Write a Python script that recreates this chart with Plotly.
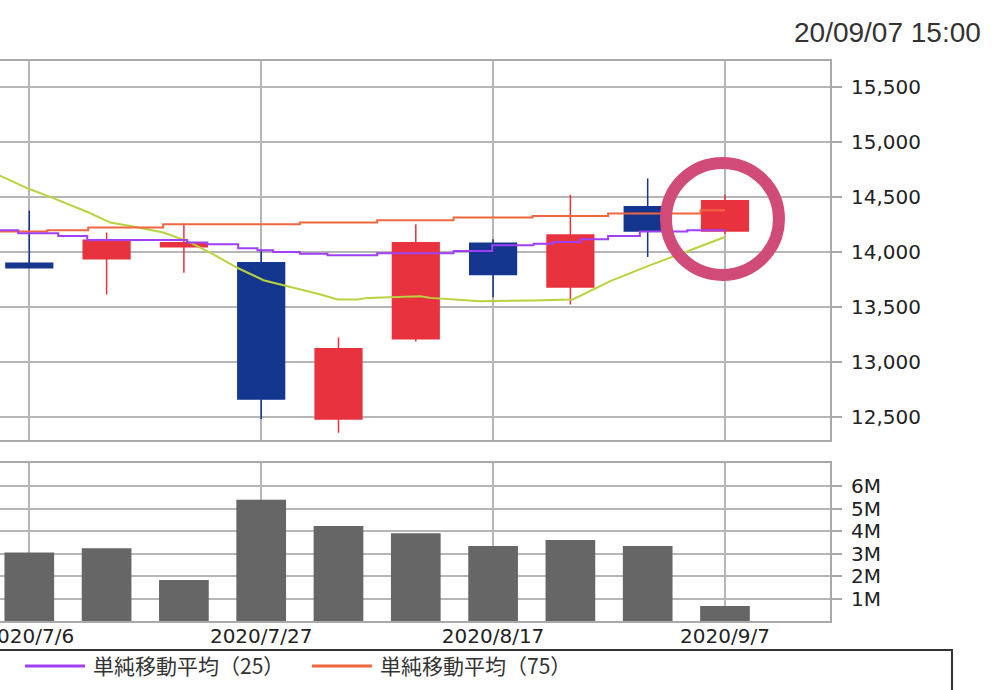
import plotly.graph_objects as go

# ---------------- data ----------------
dates = ["2020-07-06", "2020-07-13", "2020-07-20", "2020-07-27", "2020-08-03",
         "2020-08-10", "2020-08-17", "2020-08-24", "2020-08-31", "2020-09-07"]
opens = [13895, 13936, 14046, 13900, 12477, 13208, 14077, 13680, 14409, 14189]
highs = [14375, 14174, 14256, 14022, 13220, 14250, 14113, 14518, 14667, 14518]
lows = [13855, 13611, 13808, 12477, 12352, 13184, 13586, 13519, 13952, 14160]
closes = [13855, 14104, 14082, 12660, 13117, 14082, 13793, 14153, 14189, 14463]
volumes = [3.05e6, 3.23e6, 1.82e6, 5.39e6, 4.23e6, 3.90e6, 3.33e6, 3.60e6, 3.33e6, 0.67e6]

ma25_dates = ["2020-07-03 08:00", "2020-07-05", "2020-07-08 15:00", "2020-07-11 06:00",
              "2020-07-20 07:00", "2020-07-22 03:00", "2020-07-24 22:00", "2020-07-26 16:00",
              "2020-07-28 02:00", "2020-07-30 12:00", "2020-08-02", "2020-08-06 12:00",
              "2020-08-13 10:00", "2020-08-16 22:00", "2020-08-20 16:00", "2020-08-22 10:00",
              "2020-08-24 22:00", "2020-08-27 10:00", "2020-08-30 07:00", "2020-09-03 14:00",
              "2020-09-07"]
ma25_vals = [14196, 14168, 14143, 14107, 14083, 14067, 14031, 14013, 13997, 13982, 13967,
             13985, 14006, 14058, 14073, 14089, 14113, 14143, 14183, 14195, 14200]

ma75_dates = ["2020-07-03 08:00", "2020-07-07 15:00", "2020-07-11 08:00", "2020-07-18 03:00",
              "2020-07-30 12:00", "2020-08-06 12:00", "2020-08-13 10:00", "2020-08-20 14:00",
              "2020-08-27 10:00", "2020-09-04 19:00", "2020-09-07"]
ma75_vals = [14183, 14195, 14220, 14250, 14265, 14287, 14311, 14326, 14347, 14378, 14378]

ma13_dates = ["2020-07-03 08:00", "2020-07-06", "2020-07-08", "2020-07-11 09:00",
              "2020-07-13 08:00", "2020-07-15 10:00", "2020-07-18 03:00", "2020-07-20 07:00",
              "2020-07-22 16:00", "2020-07-24 20:00", "2020-07-27 05:00", "2020-07-29",
              "2020-08-01 09:00", "2020-08-02 22:00", "2020-08-04 17:00", "2020-08-05 15:00",
              "2020-08-10 10:00", "2020-08-11 08:00", "2020-08-13 10:00", "2020-08-15 20:00",
              "2020-08-20 16:00", "2020-08-24 05:00", "2020-08-27 15:00", "2020-08-31",
              "2020-09-03 06:00", "2020-09-07"]
ma13_vals = [14692, 14570, 14494, 14357, 14265, 14229, 14174, 14098, 13976, 13854, 13741,
             13696, 13611, 13565, 13565, 13580, 13595, 13580, 13565, 13550, 13556, 13565,
             13732, 13869, 13991, 14134]

price_ticks = [12500, 13000, 13500, 14000, 14500, 15000, 15500]
vol_ticks = [1e6, 2e6, 3e6, 4e6, 5e6, 6e6]
vol_tick_labels = ["1M", "2M", "3M", "4M", "5M", "6M"]
legend_labels = ["単純移動平均（25）", "単純移動平均（75）"]
timestamp = "20/09/07 15:00"

# ---------------- style ----------------
UP = "#e8333f"
DOWN = "#15368f"
C25 = "#a040f5"
C75 = "#ef6741"
C13 = "#b8d33e"
GRID = "#b6b6b6"
FRAME = "#a9a9a9"
TICKFONT = dict(family="DejaVu Sans, Noto Sans CJK JP", size=20, color="#222222")

W, H = 998, 690
ML, MR, MT, MB = 0, 168, 61, 69
PW, PH = W - ML - MR, H - MT - MB


def py(px):  # pixel y -> paper y
    return (H - MB - px) / PH


def pxx(px):  # pixel x -> paper x
    return (px - ML) / PW


xrange_ = ["2020-07-03 08:20", "2020-09-16 12:15"]
week3 = 21 * 86400000

fig = go.Figure()

fig.add_trace(go.Candlestick(
    x=dates, open=opens, high=highs, low=lows, close=closes,
    increasing=dict(line=dict(color=UP, width=1.5), fillcolor=UP),
    decreasing=dict(line=dict(color=DOWN, width=1.5), fillcolor=DOWN),
    whiskerwidth=0, xaxis="x", yaxis="y", showlegend=False,
))
fig.add_trace(go.Scatter(x=ma13_dates, y=ma13_vals, mode="lines",
                         line=dict(color=C13, width=2), xaxis="x", yaxis="y", showlegend=False))
fig.add_trace(go.Scatter(x=ma75_dates, y=ma75_vals, mode="lines",
                         line=dict(color=C75, width=2, shape="hv"), xaxis="x", yaxis="y",
                         name=legend_labels[1], showlegend=False))
fig.add_trace(go.Scatter(x=ma25_dates, y=ma25_vals, mode="lines",
                         line=dict(color=C25, width=2, shape="hv"), xaxis="x", yaxis="y",
                         name=legend_labels[0], showlegend=False))

fig.add_trace(go.Bar(x=dates, y=volumes, width=[4.5 * 86400000] * len(dates),
                     marker=dict(color="#666666", line=dict(width=0)),
                     xaxis="x2", yaxis="y2", showlegend=False))

common_x = dict(type="date", range=xrange_, tick0="2020-07-06", dtick=week3,
                showgrid=True, gridcolor=GRID, gridwidth=2,
                showline=True, mirror=True, linecolor=FRAME, linewidth=2,
                ticks="", zeroline=False, automargin=False, fixedrange=True)

fig.update_layout(
    template="none",
    width=W, height=H,
    margin=dict(l=ML, r=MR, t=MT, b=MB, pad=0),
    paper_bgcolor="white", plot_bgcolor="white",
    showlegend=False,
    boxgap=0.137,
    xaxis=dict(**common_x, anchor="y", showticklabels=False,
               rangeslider=dict(visible=False)),
    xaxis2=dict(**common_x, anchor="y2", matches="x", showticklabels=True,
                tickformat="%Y/%-m/%-d", tickfont=TICKFONT, ticklabeloverflow="allow",
                ticklabelstandoff=-4),
    yaxis=dict(domain=[py(440), 1], side="right", range=[12287, 15735],
               tickvals=price_ticks, tickformat=",d", tickfont=TICKFONT,
               ticks="outside", ticklen=10, tickwidth=2, tickcolor=FRAME,
               ticklabelstandoff=5,
               showgrid=True, gridcolor=GRID, gridwidth=2,
               showline=True, linecolor=FRAME, linewidth=2, zeroline=False,
               automargin=False, fixedrange=True, anchor="x"),
    yaxis2=dict(domain=[0, py(462.7)], side="right", range=[0, 7.04e6],
                tickvals=vol_ticks, ticktext=vol_tick_labels, tickfont=TICKFONT,
                ticks="outside", ticklen=10, tickwidth=2, tickcolor=FRAME,
                ticklabelstandoff=5,
                showgrid=True, gridcolor=GRID, gridwidth=2,
                showline=True, linecolor=FRAME, linewidth=2, zeroline=False,
                automargin=False, fixedrange=True, anchor="x2"),
    font=dict(family="DejaVu Sans, Noto Sans CJK JP", color="#222222"),
)

# highlight circle around the latest candle
fig.add_shape(type="circle", xref="x", yref="y", xsizemode="pixel", ysizemode="pixel",
              xanchor=dates[-1], yanchor=(opens[-1] + closes[-1]) / 2,
              x0=-59, x1=54, y0=-59, y1=53,
              line=dict(color="#d14b78", width=12), fillcolor="rgba(0,0,0,0)")

# legend frame
fig.add_shape(type="rect", xref="paper", yref="paper",
              x0=pxx(-10), x1=pxx(952), y0=py(700), y1=py(650),
              line=dict(color="#333333", width=2), fillcolor="rgba(0,0,0,0)")
for (lx, col, lab) in [(25, C25, legend_labels[0]), (312, C75, legend_labels[1])]:
    fig.add_shape(type="line", xref="paper", yref="paper",
                  x0=pxx(lx), x1=pxx(lx + 60), y0=py(666), y1=py(666),
                  line=dict(color=col, width=3))
    fig.add_annotation(text=lab, xref="paper", yref="paper", x=pxx(lx + 66), y=py(665),
                       xanchor="left", yanchor="middle", showarrow=False,
                       font=dict(family="Noto Sans CJK JP", size=21, color="#333333"))

fig.add_annotation(text=timestamp, xref="paper", yref="paper", x=pxx(983), y=py(33),
                   xanchor="right", yanchor="middle", showarrow=False,
                   font=dict(family="Liberation Sans, Arial", size=28, color="#333333"))

fig.write_html("out.html", config={"displayModeBar": False},
               post_script="document.body.style.margin='0';")
